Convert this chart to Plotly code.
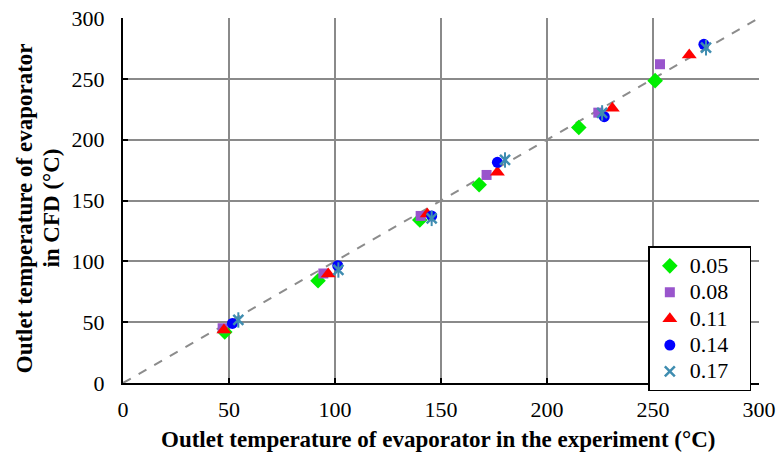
import plotly.graph_objects as go

# Outlet temperature of the evaporator: experiment (x) vs CFD (y), one series per value
labels = ["0.05", "0.08", "0.11", "0.14", "0.17"]

exp_005 = [48, 92, 140, 168, 215, 251]
cfd_005 = [42, 84, 134, 163, 210, 248.5]

exp_008 = [47, 94.5, 140.4, 171.5, 224.2, 253.3]
cfd_008 = [45, 90, 137.3, 171, 222.2, 262]

exp_011 = [47.6, 96.8, 143.5, 176.6, 230.8, 267.1]
cfd_011 = [43.6, 89.6, 139, 173.2, 225.8, 269.6]

exp_014 = [51.6, 101.3, 145.6, 176.6, 227, 274]
cfd_014 = [49, 96.4, 137.3, 181.4, 218.9, 278.4]

exp_017 = [54.4, 101.6, 145.6, 180.2, 226, 275]
cfd_017 = [51.8, 92.9, 135.3, 183.3, 222, 275.6]

# y = x reference line
ref_x = [0, 300]
ref_y = [0, 300]

ticks = [0, 50, 100, 150, 200, 250, 300]

SERIF = "Liberation Serif"


def legend_name(s):
    # larger text than the row height, with some room on the right
    return f"<span style='font-size:22px'>{s}" + "&nbsp;" * 3 + "</span>"


fig = go.Figure()

fig.add_trace(go.Scatter(
    x=ref_x, y=ref_y, mode="lines", showlegend=False, hoverinfo="skip",
    line=dict(color="#8c8c8c", width=2, dash="dash"),
))

styles = [
    (exp_005, cfd_005, dict(symbol="diamond", size=12, color="#00ee00")),
    (exp_008, cfd_008, dict(symbol="square", size=10, color="#9955cc")),
    (exp_011, cfd_011, dict(symbol="triangle-up", size=13, color="#ff0000")),
    (exp_014, cfd_014, dict(symbol="circle", size=11, color="#0000ff")),
]
for (xs, ys, mk), name in zip(styles, labels[:4]):
    fig.add_trace(go.Scatter(x=xs, y=ys, mode="markers", name=legend_name(name), marker=mk))

# star marker: an x with a vertical stroke
star_col = "#3f8db0"
fig.add_trace(go.Scatter(
    x=exp_017, y=cfd_017, mode="markers", name=legend_name(labels[4]),
    marker=dict(symbol="x-thin-open", size=10, color=star_col,
                line=dict(color=star_col, width=2.5)),
))
fig.add_trace(go.Scatter(
    x=exp_017, y=cfd_017, mode="markers", showlegend=False,
    marker=dict(symbol="line-ns-open", size=11, color=star_col,
                line=dict(color=star_col, width=2)),
))

axis_common = dict(
    range=[0, 300], tickvals=ticks, showgrid=True, gridcolor="#8a8a8a", gridwidth=2,
    zeroline=False, showline=True, linecolor="black", linewidth=2,
    ticks="inside", ticklen=5, tickcolor="black", tickwidth=2, automargin=False,
    tickfont=dict(family=SERIF, size=22, color="black"), fixedrange=True,
)

fig.update_layout(
    width=778, height=457,
    margin=dict(l=123, r=19, t=18, b=74, autoexpand=False),
    paper_bgcolor="white", plot_bgcolor="white",
    font=dict(family=SERIF, color="black"),
    xaxis=dict(**axis_common, ticklabelstandoff=6),
    yaxis=dict(**axis_common, ticklabelstandoff=12),
    showlegend=True,
    legend=dict(
        x=0.826, y=0.375, xanchor="left", yanchor="top",
        bgcolor="white", bordercolor="black", borderwidth=1.5,
        font=dict(family=SERIF, size=18, color="black"),
        itemwidth=30, tracegroupgap=0,
    ),
    annotations=[
        dict(text="<b>Outlet temperature of evaporator in the experiment (°C)</b>",
             xref="paper", yref="paper", x=0.495, y=-0.155, xanchor="center", yanchor="middle",
             showarrow=False, font=dict(family=SERIF, size=23, color="black")),
        dict(text="<b>Outlet temperature of evaporator</b>",
             xref="paper", yref="paper", x=-0.155, y=0.48, xanchor="center", yanchor="middle",
             textangle=-90, showarrow=False, font=dict(family=SERIF, size=23, color="black")),
        dict(text="<b>in CFD (°C)</b>",
             xref="paper", yref="paper", x=-0.112, y=0.48, xanchor="center", yanchor="middle",
             textangle=-90, showarrow=False, font=dict(family=SERIF, size=23, color="black")),
    ],
)

fig.write_html("out.html")
